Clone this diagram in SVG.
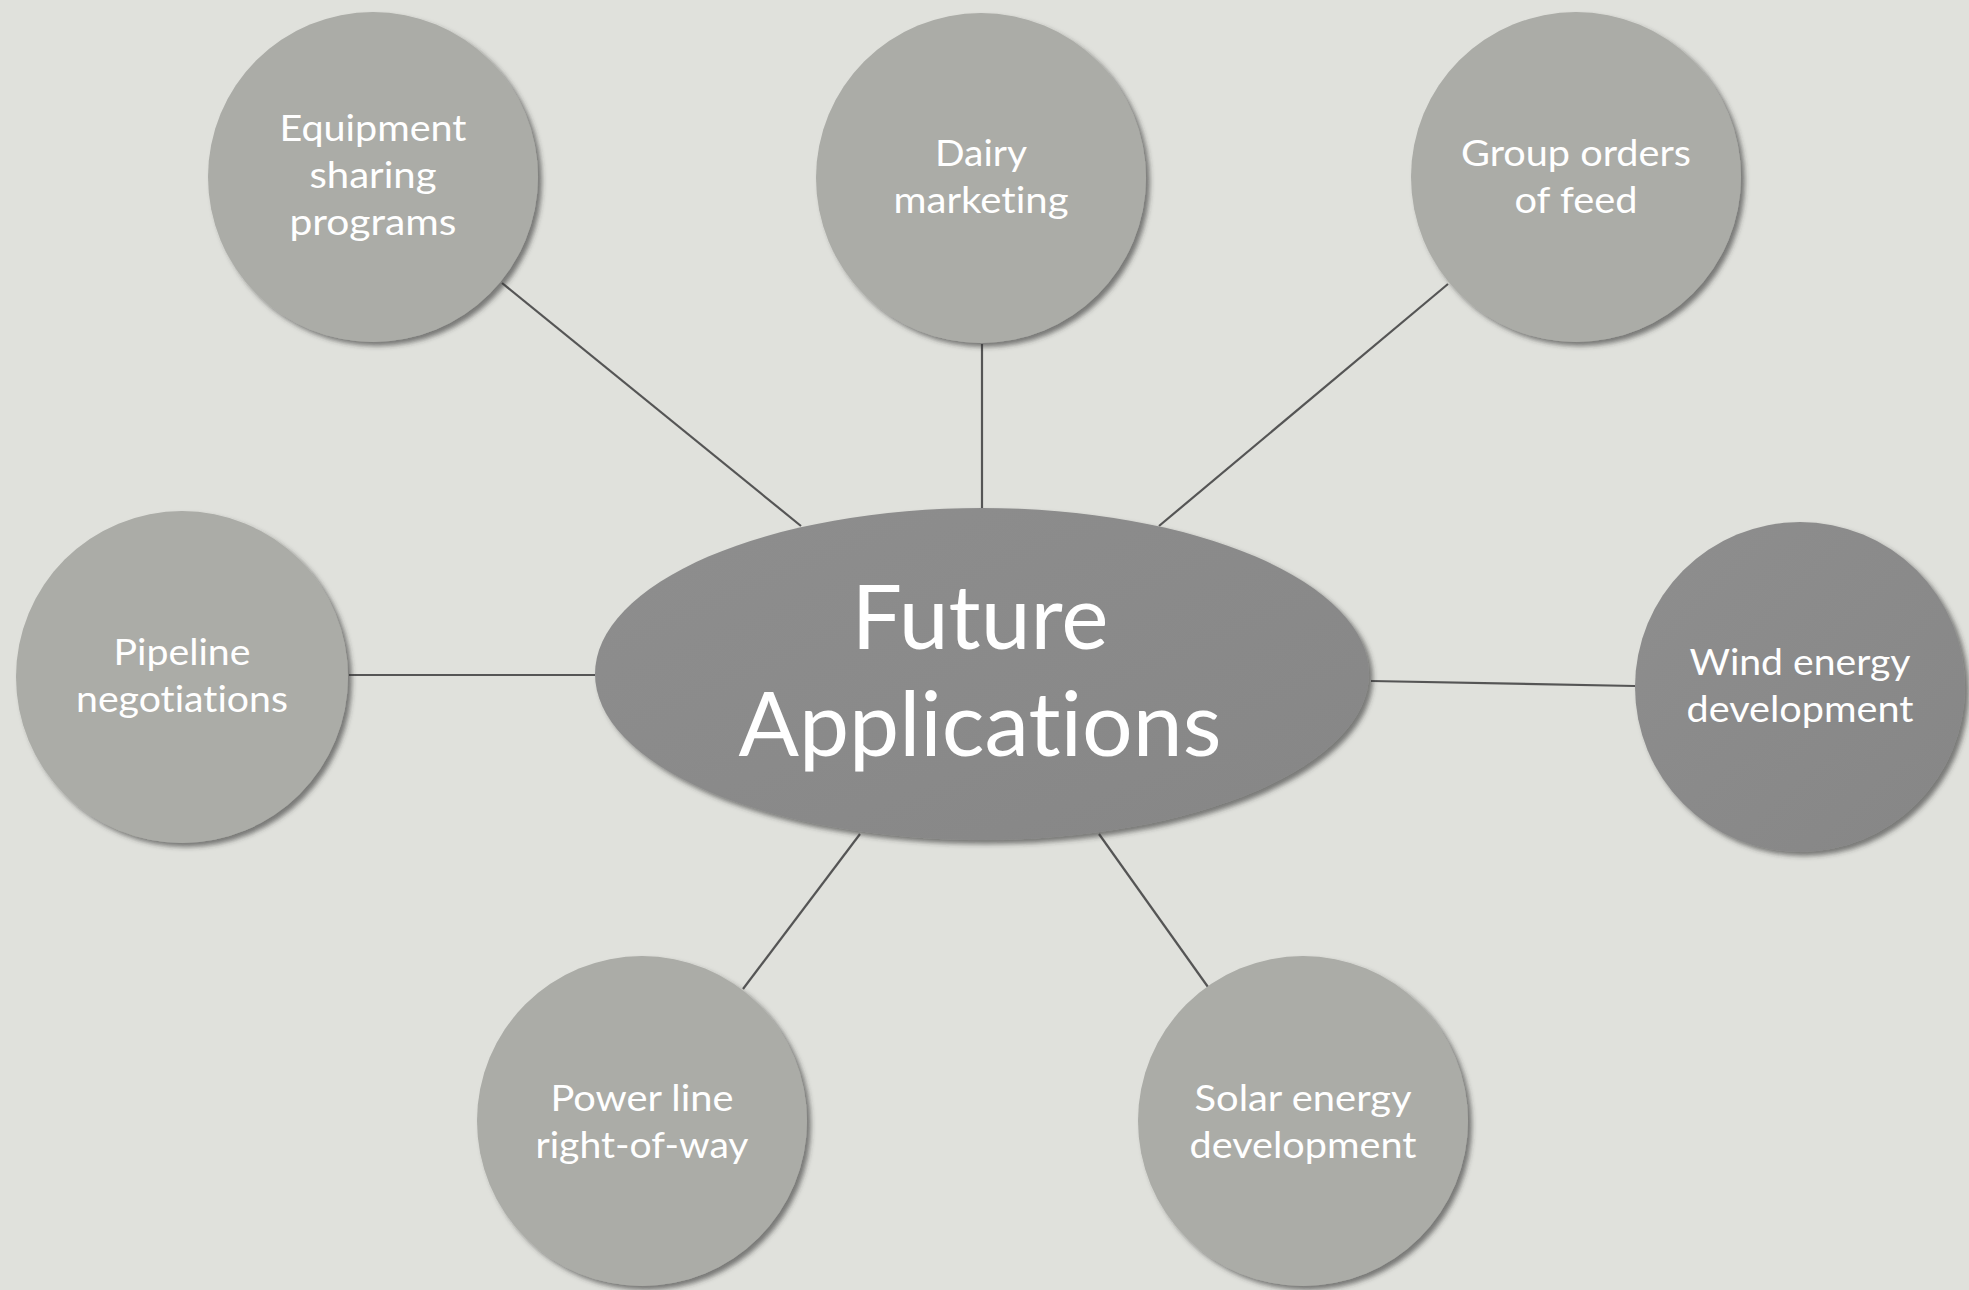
<svg xmlns="http://www.w3.org/2000/svg" width="1969" height="1290" viewBox="0 0 1969 1290">
  <defs>
    <filter id="shadow" x="-10%" y="-10%" width="125%" height="125%">
      <feDropShadow dx="4" dy="4" stdDeviation="2.5" flood-color="#333333" flood-opacity="0.6"/>
    </filter>
    <linearGradient id="darkGrad" x1="0" y1="0" x2="1" y2="1">
      <stop offset="0" stop-color="#8e8e8e"/>
      <stop offset="1" stop-color="#868686"/>
    </linearGradient>
    <style>
      .bg { fill: #e0e1dc; }
      .light { fill: #abaca7; filter: url(#shadow); }
      .dark { fill: url(#darkGrad); filter: url(#shadow); }
      .conn line { stroke: #555555; stroke-width: 2.2; }
      .lbl { font-family: Lato, "Open Sans", "Liberation Sans", sans-serif; font-size: 37px; fill: #ffffff; text-anchor: middle; font-variant-ligatures: none; font-feature-settings: "liga" 0, "clig" 0; }
      .main { font-family: Lato, "Open Sans", "Liberation Sans", sans-serif; font-size: 90px; fill: #ffffff; text-anchor: middle; font-variant-ligatures: none; font-feature-settings: "liga" 0, "clig" 0; }
    </style>
  </defs>
  <rect class="bg" x="0" y="0" width="1969" height="1290"/>

  <g id="connectors" class="conn">
    <line x1="502" y1="283" x2="801" y2="526"/>
    <line x1="982" y1="344" x2="982" y2="509"/>
    <line x1="1448" y1="284" x2="1159" y2="526"/>
    <line x1="349" y1="675" x2="595" y2="675"/>
    <line x1="1371" y1="681" x2="1635" y2="686"/>
    <line x1="860" y1="834" x2="743" y2="989"/>
    <line x1="1099" y1="834" x2="1208" y2="987"/>
  </g>

  <g id="node-center">
    <ellipse class="dark" cx="982" cy="674" rx="387" ry="166"/>
    <text class="main" x="980" y="649" textLength="257" lengthAdjust="spacingAndGlyphs">Future</text>
    <text class="main" x="980" y="756" textLength="483" lengthAdjust="spacingAndGlyphs">Applications</text>
  </g>

  <g id="node-equipment">
    <circle class="light" cx="373" cy="177" r="165"/>
    <text class="lbl" x="373" y="141" textLength="187" lengthAdjust="spacingAndGlyphs">Equipment</text>
    <text class="lbl" x="373" y="188" textLength="127" lengthAdjust="spacingAndGlyphs">sharing</text>
    <text class="lbl" x="373" y="235" textLength="167" lengthAdjust="spacingAndGlyphs">programs</text>
  </g>

  <g id="node-dairy">
    <circle class="light" cx="981" cy="178" r="165"/>
    <text class="lbl" x="981" y="166" textLength="92" lengthAdjust="spacingAndGlyphs">Dairy</text>
    <text class="lbl" x="981" y="213" textLength="175" lengthAdjust="spacingAndGlyphs">marketing</text>
  </g>

  <g id="node-group">
    <circle class="light" cx="1576" cy="177" r="165"/>
    <text class="lbl" x="1576" y="166" textLength="230" lengthAdjust="spacingAndGlyphs">Group orders</text>
    <text class="lbl" x="1576" y="213" textLength="123" lengthAdjust="spacingAndGlyphs">of feed</text>
  </g>

  <g id="node-pipeline">
    <circle class="light" cx="182" cy="677" r="166"/>
    <text class="lbl" x="182" y="665" textLength="137" lengthAdjust="spacingAndGlyphs">Pipeline</text>
    <text class="lbl" x="182" y="712" textLength="212" lengthAdjust="spacingAndGlyphs">negotiations</text>
  </g>

  <g id="node-wind">
    <circle class="dark" cx="1800" cy="687" r="165"/>
    <text class="lbl" x="1800" y="675" textLength="221" lengthAdjust="spacingAndGlyphs">Wind energy</text>
    <text class="lbl" x="1800" y="722" textLength="227" lengthAdjust="spacingAndGlyphs">development</text>
  </g>

  <g id="node-power">
    <circle class="light" cx="642" cy="1121" r="165"/>
    <text class="lbl" x="642" y="1111" textLength="183" lengthAdjust="spacingAndGlyphs">Power line</text>
    <text class="lbl" x="642" y="1158" textLength="213" lengthAdjust="spacingAndGlyphs">right-of-way</text>
  </g>

  <g id="node-solar">
    <circle class="light" cx="1303" cy="1121" r="165"/>
    <text class="lbl" x="1303" y="1111" textLength="217" lengthAdjust="spacingAndGlyphs">Solar energy</text>
    <text class="lbl" x="1303" y="1158" textLength="227" lengthAdjust="spacingAndGlyphs">development</text>
  </g>
</svg>
